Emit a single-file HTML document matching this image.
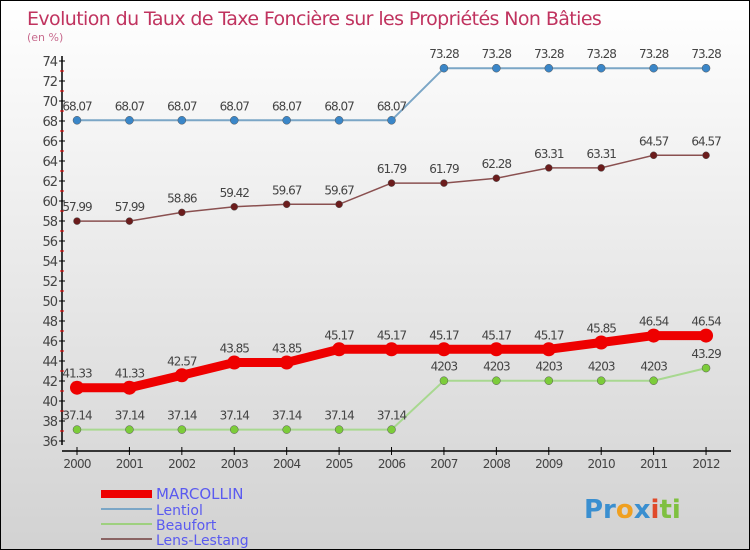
<!DOCTYPE html>
<html><head><meta charset="utf-8"><style>
body{margin:0}
#c{position:relative;width:750px;height:550px;box-sizing:border-box;border:1px solid #000;background:linear-gradient(#ffffff,#d2d2d2);font-family:"DejaVu Sans","Liberation Sans",sans-serif;overflow:hidden}
svg text{font-family:"DejaVu Sans","Liberation Sans",sans-serif}
</style></head><body>
<div id="c">
<svg id="s" width="750" height="550">
<text x="26" y="24" font-size="19" fill="#c0335f" style="letter-spacing:-0.6px">Evolution du Taux de Taxe Foncière sur les Propriétés Non Bâties</text>
<text x="26" y="40" font-size="11" fill="#c86b8e">(en %)</text>
<g id="axes"></g><g id="series"></g>
<g>
<rect x="100" y="489" width="51" height="8" fill="#e00"/>
<text x="155" y="498" font-size="15" fill="#5a5af0">MARCOLLIN</text>
<rect x="100" y="507" width="51" height="2" fill="#7ba6c6"/>
<text x="155" y="514" font-size="14" fill="#5a5af0">Lentiol</text>
<rect x="100" y="522" width="51" height="2" fill="#9ed07f"/>
<text x="155" y="529" font-size="14" fill="#5a5af0">Beaufort</text>
<rect x="100" y="537" width="51" height="2" fill="#8a6464"/>
<text x="155" y="544" font-size="14" fill="#5a5af0">Lens-Lestang</text>
</g>
<text x="583" y="517" font-size="26" font-weight="bold"><tspan fill="#3a8fd0">Pr</tspan><tspan fill="#f0a020">o</tspan><tspan fill="#3a8fd0">x</tspan><tspan fill="#e04a2a">i</tspan><tspan fill="#7fc040">ti</tspan></text>
</svg></div>
<script>
const years=[2000,2001,2002,2003,2004,2005,2006,2007,2008,2009,2010,2011,2012];
const marcollin=[41.33,41.33,42.57,43.85,43.85,45.17,45.17,45.17,45.17,45.17,45.85,46.54,46.54];
const lentiol=[68.07,68.07,68.07,68.07,68.07,68.07,68.07,73.28,73.28,73.28,73.28,73.28,73.28];
const beaufort=[37.14,37.14,37.14,37.14,37.14,37.14,37.14,42.03,42.03,42.03,42.03,42.03,43.29];
const lensLestang=[57.99,57.99,58.86,59.42,59.67,59.67,61.79,61.79,62.28,63.31,63.31,64.57,64.57];
const yTicks=[36,38,40,42,44,46,48,50,52,54,56,58,60,62,64,66,68,70,72,74];
const NS="http://www.w3.org/2000/svg";
function X(i){return 76+i*52.42;}
function Y(v){return 440-(v-36)*10;}
function mk(t,a,p){const e=document.createElementNS(NS,t);for(const k in a)e.setAttribute(k,a[k]);p.appendChild(e);return e;}
const ax=document.getElementById('axes');
let e=mk('line',{x1:61,y1:55,x2:61,y2:444,stroke:'#000','stroke-width':1.5},ax);


e=mk('line',{x1:61,y1:450,x2:730,y2:450,stroke:'#000','stroke-width':1.5},ax);


yTicks.forEach(v=>{
 mk('line',{x1:58,y1:Y(v),x2:64,y2:Y(v),stroke:'#000'},ax);
 if(v<74)mk('line',{x1:59,y1:Y(v+1),x2:63,y2:Y(v+1),stroke:'#e00'},ax);
 const t=mk('text',{x:56,y:Y(v)+5,'font-size':13,'text-anchor':'end',fill:'#444','letter-spacing':'-1'},ax);
 t.textContent=v;
 
 
});
years.forEach((yr,i)=>{
 mk('line',{x1:X(i),y1:446,x2:X(i),y2:454,stroke:'#000'},ax);
 const t=mk('text',{x:X(i),y:467,'font-size':12,'text-anchor':'middle',fill:'#444','letter-spacing':'-0.8'},ax);
 t.textContent=yr;
 
 
});
const sg=document.getElementById('series');
function series(name,data,color,w,dot,r,lab){
 const g=mk('g',{},sg);
 
 
 const p=mk('polyline',{points:data.map((v,i)=>X(i)+','+Y(v)).join(' '),fill:'none',stroke:color,'stroke-width':w},g);
 
 
 data.forEach((v,i)=>{
  const c=mk('circle',{cx:X(i),cy:Y(v),r:r,fill:dot,stroke:dot==='#e00'?'none':'#555','stroke-width':0.5},g);
  
  
  const t=mk('text',{x:X(i),y:Y(v)-10,'font-size':12,'text-anchor':'middle',fill:'#444','letter-spacing':'-1'},g);
  t.textContent=lab?lab(v):v;
  
  
 });
}
const fmt=v=>String(v).replace('.0','0');
series('lentiol',lentiol,'#7ba6c6',2,'#3a86c8',4);
series('lens-lestang',lensLestang,'#8a5050',1.5,'#6b1c1c',3.5);
series('beaufort',beaufort,'#a8d890',2,'#7ccc3a',4,v=>v===42.03?'4203':v);
series('marcollin',marcollin,'#e00',9,'#e00',7);
</script>
</body></html>
